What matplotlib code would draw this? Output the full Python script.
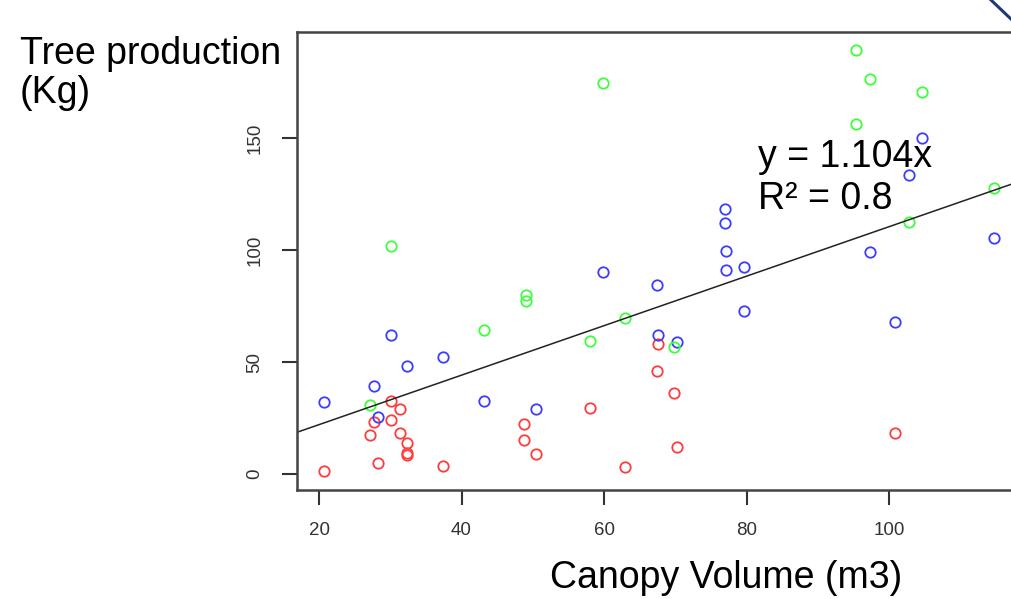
import matplotlib
matplotlib.use("Agg")
import matplotlib.pyplot as plt
from matplotlib.lines import Line2D

plt.rcParams['font.family'] = ['Liberation Sans', 'DejaVu Sans']

# canopy volume (m3) / tree production (kg), one group per colour
red_x = [20.7, 27.1, 27.7, 28.3, 30.1, 30.1, 31.3, 31.3, 32.3, 32.3, 32.3,
         37.4, 48.7, 48.7, 50.4, 58.0, 63.0, 67.6, 67.4, 69.8, 70.2, 100.9]
red_y = [1.2, 17.6, 23.4, 4.8, 32.7, 24.3, 29.0, 18.2, 14.0, 9.5, 8.5,
         3.7, 22.5, 15.0, 9.1, 29.6, 3.0, 58.0, 46.0, 36.3, 12.1, 18.2]

blue_x = [20.7, 27.7, 28.3, 30.1, 32.3, 37.4, 43.1, 50.4, 59.8, 67.4, 67.6, 70.2,
          77.0, 77.0, 77.1, 77.1, 79.6, 79.6, 97.3, 100.9, 102.8, 104.6, 114.7]
blue_y = [32.0, 39.3, 25.6, 61.9, 48.4, 52.1, 32.7, 29.0, 90.2, 84.2, 61.9, 58.9,
          118.2, 111.9, 99.7, 91.1, 92.3, 72.6, 99.0, 67.9, 133.6, 149.9, 105.5]

green_x = [27.1, 30.1, 43.1, 49.1, 49.1, 58.0, 59.8, 63.0, 69.8,
           95.4, 95.4, 97.3, 102.8, 104.6, 114.7]
green_y = [30.8, 101.8, 64.1, 80.1, 77.4, 59.4, 174.7, 69.8, 56.8,
           189.1, 156.4, 176.3, 112.4, 170.4, 127.5]

slope = 1.104
r2 = 0.8

x_ticks = [20, 40, 60, 80, 100]
y_ticks = [0, 50, 100, 150]

W, H = 1012, 599
fig = plt.figure(figsize=(W / 100, H / 100), dpi=100)
# axes box runs off the right edge of the picture, like the cropped original
ax = fig.add_axes([297 / W, (H - 490) / H, (1040 - 297) / W, (490 - 32) / H])

kw = dict(marker='o', linestyle='none', markerfacecolor='none',
          markersize=7.5, markeredgewidth=1.3)
ax.plot(red_x, red_y, markeredgecolor='#ff3c3c', **kw)
ax.plot(blue_x, blue_y, markeredgecolor='#3c3cff', **kw)
ax.plot(green_x, green_y, markeredgecolor='#3cff3c', **kw)

ax.axline((0, 0), slope=slope, color='#222222', linewidth=1.1)

ax.set_xlim(16.9, 121.2)
ax.set_ylim(-7.1, 197.3)
ax.set_xticks(x_ticks)
ax.set_yticks(y_ticks)
ax.tick_params(axis='both', length=11, width=1.5, color='#333333',
               labelsize=13.5, labelcolor='#333333')
ax.tick_params(axis='x', pad=12)
ax.tick_params(axis='y', pad=13)
for lab in ax.get_yticklabels():
    lab.set_rotation(90)
    lab.set_va('center')
for s in ax.spines.values():
    s.set_color('#444444')
    s.set_linewidth(1.8)

ax.text(81.6, (474 - 167) / 2.24, f"y = {slope}x", fontsize=27,
        va='baseline', ha='left')
ax.text(81.6, (474 - 209) / 2.24, f"R\u00b2 = {r2}", fontsize=27,
        va='baseline', ha='left')

fig.text(20 / W, 1 - 36 / H, "Tree production\n(Kg)", fontsize=27,
         va='top', ha='left', linespacing=1.12)
fig.text(726 / W, 1 - 578 / H, "Canopy Volume (m3)", fontsize=27,
         va='center', ha='center')

# slide decoration in the top right corner
fig.add_artist(Line2D([991 / W, 1.0], [1.0, 1 - 20 / H],
                      transform=fig.transFigure, color='#1f3a6e', linewidth=2.2))

fig.savefig("out.png", dpi=100)
